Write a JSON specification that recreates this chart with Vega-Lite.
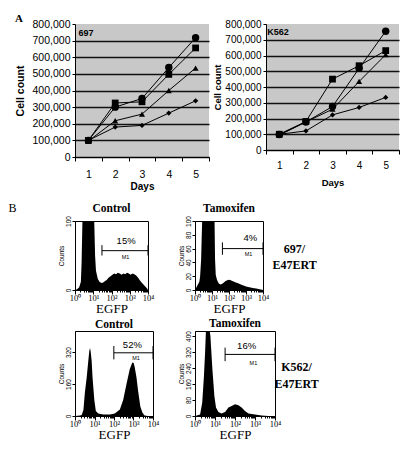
{
  "$schema": "https://vega.github.io/schema/vega-lite/v6.json",
  "background": "white",
  "padding": {"left": 8, "top": 0, "right": 0, "bottom": 0},
  "config": {
    "view": {"stroke": null},
    "font": "Liberation Sans",
    "axis": {"labelColor": "black", "titleColor": "black", "domainColor": "black", "tickColor": "black", "grid": false},
    "title": {"color": "black"},
    "text": {"color": "black"}
  },
  "datasets": {
    "g697": [
      {"day": 1, "series": "s1", "cells": 100000}, {"day": 2, "series": "s1", "cells": 300000}, {"day": 3, "series": "s1", "cells": 352000}, {"day": 4, "series": "s1", "cells": 538000}, {"day": 5, "series": "s1", "cells": 718000},
      {"day": 1, "series": "s2", "cells": 100000}, {"day": 2, "series": "s2", "cells": 325000}, {"day": 3, "series": "s2", "cells": 332000}, {"day": 4, "series": "s2", "cells": 497000}, {"day": 5, "series": "s2", "cells": 656000},
      {"day": 1, "series": "s3", "cells": 96000}, {"day": 2, "series": "s3", "cells": 218000}, {"day": 3, "series": "s3", "cells": 258000}, {"day": 4, "series": "s3", "cells": 400000}, {"day": 5, "series": "s3", "cells": 535000},
      {"day": 1, "series": "s4", "cells": 100000}, {"day": 2, "series": "s4", "cells": 180000}, {"day": 3, "series": "s4", "cells": 190000}, {"day": 4, "series": "s4", "cells": 264000}, {"day": 5, "series": "s4", "cells": 338000}
    ],
    "gK562": [
      {"day": 1, "series": "s1", "cells": 98000}, {"day": 2, "series": "s1", "cells": 178000}, {"day": 3, "series": "s1", "cells": 276000}, {"day": 4, "series": "s1", "cells": 518000}, {"day": 5, "series": "s1", "cells": 754000},
      {"day": 1, "series": "s2", "cells": 100000}, {"day": 2, "series": "s2", "cells": 181000}, {"day": 3, "series": "s2", "cells": 450000}, {"day": 4, "series": "s2", "cells": 535000}, {"day": 5, "series": "s2", "cells": 631000},
      {"day": 1, "series": "s3", "cells": 94000}, {"day": 2, "series": "s3", "cells": 178000}, {"day": 3, "series": "s3", "cells": 259000}, {"day": 4, "series": "s3", "cells": 435000}, {"day": 5, "series": "s3", "cells": 605000},
      {"day": 1, "series": "s4", "cells": 100000}, {"day": 2, "series": "s4", "cells": 121000}, {"day": 3, "series": "s4", "cells": 223000}, {"day": 4, "series": "s4", "cells": 270000}, {"day": 5, "series": "s4", "cells": 334000}
    ],
    "h697c": [
      {"egfp": 1, "count": 0}, {"egfp": 1.3, "count": 1}, {"egfp": 1.7, "count": 4}, {"egfp": 2.1, "count": 12}, {"egfp": 2.3, "count": 40}, {"egfp": 2.6, "count": 110}, {"egfp": 3, "count": 160}, {"egfp": 5, "count": 170}, {"egfp": 8, "count": 160}, {"egfp": 10, "count": 140}, {"egfp": 11.2, "count": 105}, {"egfp": 12.6, "count": 50}, {"egfp": 14.1, "count": 28}, {"egfp": 17.8, "count": 16}, {"egfp": 22, "count": 12}, {"egfp": 28, "count": 10}, {"egfp": 35, "count": 11}, {"egfp": 45, "count": 13}, {"egfp": 56, "count": 15}, {"egfp": 71, "count": 18}, {"egfp": 89, "count": 20}, {"egfp": 112, "count": 22}, {"egfp": 141, "count": 24}, {"egfp": 178, "count": 23}, {"egfp": 224, "count": 25}, {"egfp": 282, "count": 24}, {"egfp": 355, "count": 22}, {"egfp": 447, "count": 24}, {"egfp": 562, "count": 23}, {"egfp": 708, "count": 25}, {"egfp": 891, "count": 24}, {"egfp": 1122, "count": 22}, {"egfp": 1413, "count": 24}, {"egfp": 1778, "count": 23}, {"egfp": 2239, "count": 21}, {"egfp": 2818, "count": 18}, {"egfp": 3548, "count": 14}, {"egfp": 4467, "count": 11}, {"egfp": 5623, "count": 8}, {"egfp": 7079, "count": 5}, {"egfp": 8913, "count": 2}, {"egfp": 10000, "count": 0}
    ],
    "h697t": [
      {"egfp": 1, "count": 0}, {"egfp": 1.4, "count": 7}, {"egfp": 1.8, "count": 12}, {"egfp": 2, "count": 20}, {"egfp": 2.3, "count": 45}, {"egfp": 2.5, "count": 80}, {"egfp": 2.8, "count": 120}, {"egfp": 4, "count": 160}, {"egfp": 6.3, "count": 160}, {"egfp": 10, "count": 150}, {"egfp": 12, "count": 125}, {"egfp": 14.1, "count": 100}, {"egfp": 15.1, "count": 45}, {"egfp": 16.6, "count": 22}, {"egfp": 19, "count": 16}, {"egfp": 22, "count": 12}, {"egfp": 26, "count": 9}, {"egfp": 32, "count": 8}, {"egfp": 40, "count": 9}, {"egfp": 50, "count": 11}, {"egfp": 63, "count": 13}, {"egfp": 79, "count": 14}, {"egfp": 100, "count": 15}, {"egfp": 126, "count": 14}, {"egfp": 158, "count": 13}, {"egfp": 200, "count": 12}, {"egfp": 251, "count": 11}, {"egfp": 316, "count": 10}, {"egfp": 398, "count": 9}, {"egfp": 501, "count": 8}, {"egfp": 631, "count": 7}, {"egfp": 794, "count": 6}, {"egfp": 1000, "count": 5}, {"egfp": 1585, "count": 4}, {"egfp": 2512, "count": 3}, {"egfp": 3981, "count": 2}, {"egfp": 6310, "count": 1}, {"egfp": 10000, "count": 0}
    ],
    "hK562c": [
      {"egfp": 1, "count": 0}, {"egfp": 1.8, "count": 2}, {"egfp": 2.2, "count": 5}, {"egfp": 2.7, "count": 30}, {"egfp": 3.2, "count": 115}, {"egfp": 4, "count": 195}, {"egfp": 4.8, "count": 275}, {"egfp": 5.4, "count": 325}, {"egfp": 5.9, "count": 340}, {"egfp": 6.3, "count": 325}, {"egfp": 7.1, "count": 280}, {"egfp": 7.9, "count": 195}, {"egfp": 9.8, "count": 80}, {"egfp": 11.7, "count": 25}, {"egfp": 15.5, "count": 12}, {"egfp": 28, "count": 8}, {"egfp": 62, "count": 8}, {"egfp": 110, "count": 12}, {"egfp": 200, "count": 33}, {"egfp": 295, "count": 80}, {"egfp": 437, "count": 160}, {"egfp": 646, "count": 235}, {"egfp": 871, "count": 268}, {"egfp": 1023, "count": 265}, {"egfp": 1148, "count": 245}, {"egfp": 1413, "count": 195}, {"egfp": 1698, "count": 130}, {"egfp": 2239, "count": 48}, {"egfp": 2884, "count": 16}, {"egfp": 3715, "count": 3}, {"egfp": 5495, "count": 0}, {"egfp": 10000, "count": 0}
    ],
    "hK562t": [
      {"egfp": 1, "count": 0}, {"egfp": 1.8, "count": 8}, {"egfp": 2.3, "count": 67}, {"egfp": 2.8, "count": 200}, {"egfp": 3.2, "count": 320}, {"egfp": 3.5, "count": 420}, {"egfp": 4.2, "count": 450}, {"egfp": 5, "count": 450}, {"egfp": 5.9, "count": 400}, {"egfp": 6.3, "count": 350}, {"egfp": 7.4, "count": 235}, {"egfp": 9.3, "count": 100}, {"egfp": 11.2, "count": 42}, {"egfp": 14.8, "count": 20}, {"egfp": 21, "count": 13}, {"egfp": 32, "count": 20}, {"egfp": 47, "count": 42}, {"egfp": 68, "count": 50}, {"egfp": 100, "count": 59}, {"egfp": 148, "count": 54}, {"egfp": 214, "count": 42}, {"egfp": 316, "count": 25}, {"egfp": 468, "count": 13}, {"egfp": 1000, "count": 7}, {"egfp": 2138, "count": 3}, {"egfp": 4677, "count": 0}, {"egfp": 10000, "count": 0}
    ]
  },
  "columns": 1,
  "align": "none",
  "spacing": 9,
  "concat": [
    {
      "columns": 2,
      "align": "none",
      "spacing": 2,
      "concat": [
        {
          "title": {"text": "A", "orient": "top", "anchor": "start", "frame": "bounds", "align": "left", "font": "Liberation Serif", "fontSize": 11, "fontWeight": "bold", "offset": -5},
          "width": 134,
          "height": 133,
          "view": {"fill": "#c8c8c8", "stroke": null},
          "data": {"name": "g697"},
          "encoding": {
            "x": {"field": "day", "type": "ordinal", "scale": {"type": "band", "paddingInner": 0, "paddingOuter": 0},
              "axis": {"labelAngle": 0, "tickBand": "extent", "tickSize": 4, "labelPadding": 8, "labelFont": "Liberation Sans", "labelFontSize": 10.5, "title": "Days", "titleFont": "Liberation Sans", "titleFontSize": 10, "titleFontWeight": "bold", "titlePadding": 2, "grid": false}},
            "y": {"field": "cells", "type": "quantitative", "scale": {"domain": [0, 800000], "nice": false},
              "axis": {"values": [0, 100000, 200000, 300000, 400000, 500000, 600000, 700000, 800000], "format": ",d", "title": "Cell count", "titleFont": "Liberation Sans", "titleFontSize": 10.5, "titleFontWeight": "bold", "titlePadding": 7, "labelFont": "Liberation Sans", "labelFontSize": 10.5, "labelPadding": 2, "tickSize": 3, "grid": true, "gridColor": "#111", "gridWidth": 1.3, "gridOpacity": {"condition": {"test": "datum.value >= 800000", "value": 0}, "value": 1}}}
          },
          "layer": [
            {"mark": {"type": "line", "color": "black", "strokeWidth": 1}, "encoding": {"detail": {"field": "series", "type": "nominal"}}},
            {"mark": {"type": "point", "filled": true, "opacity": 1, "color": "black"},
              "encoding": {
                "shape": {"field": "series", "type": "nominal", "scale": {"domain": ["s1", "s2", "s3", "s4"], "range": ["circle", "square", "triangle-up", "diamond"]}, "legend": null},
                "size": {"field": "series", "type": "nominal", "scale": {"domain": ["s1", "s2", "s3", "s4"], "range": [55, 28, 55, 50]}, "legend": null}}},
            {"data": {"values": [{"day": 1, "cells": 800000, "label": "697"}]},
              "mark": {"type": "text", "align": "left", "baseline": "top", "dx": -10, "dy": 5, "font": "Liberation Sans", "fontWeight": "bold", "fontSize": 9},
              "encoding": {"text": {"field": "label"}}}
          ]
        },
        {
          "title": {"text": " ", "orient": "top", "fontSize": 19, "offset": 0},
          "width": 133,
          "height": 126,
          "view": {"fill": "#c8c8c8", "stroke": null},
          "data": {"name": "gK562"},
          "encoding": {
            "x": {"field": "day", "type": "ordinal", "scale": {"type": "band", "paddingInner": 0, "paddingOuter": 0},
              "axis": {"labelAngle": 0, "tickBand": "extent", "tickSize": 4, "labelPadding": 6, "labelFont": "Liberation Sans", "labelFontSize": 10, "title": "Days", "titleFont": "Liberation Sans", "titleFontSize": 9.5, "titleFontWeight": "bold", "titlePadding": 7, "grid": false}},
            "y": {"field": "cells", "type": "quantitative", "scale": {"domain": [0, 800000], "nice": false},
              "axis": {"values": [0, 100000, 200000, 300000, 400000, 500000, 600000, 700000, 800000], "format": ",d", "title": "Cell count", "titleFont": "Liberation Sans", "titleFontSize": 9.5, "titleFontWeight": "bold", "titlePadding": 2, "labelFont": "Liberation Sans", "labelFontSize": 10, "labelPadding": 2, "tickSize": 3, "grid": true, "gridColor": "#111", "gridWidth": 1.3, "gridOpacity": {"condition": {"test": "datum.value >= 800000", "value": 0}, "value": 1}}}
          },
          "layer": [
            {"mark": {"type": "line", "color": "black", "strokeWidth": 1}, "encoding": {"detail": {"field": "series", "type": "nominal"}}},
            {"mark": {"type": "point", "filled": true, "opacity": 1, "color": "black"},
              "encoding": {
                "shape": {"field": "series", "type": "nominal", "scale": {"domain": ["s1", "s2", "s3", "s4"], "range": ["circle", "square", "triangle-up", "diamond"]}, "legend": null},
                "size": {"field": "series", "type": "nominal", "scale": {"domain": ["s1", "s2", "s3", "s4"], "range": [55, 28, 55, 50]}, "legend": null}}},
            {"data": {"values": [{"day": 1, "cells": 800000, "label": "K562"}]},
              "mark": {"type": "text", "align": "left", "baseline": "top", "dx": -12, "dy": 4, "font": "Liberation Sans", "fontWeight": "bold", "fontSize": 9},
              "encoding": {"text": {"field": "label"}}}
          ]
        }
      ]
    },
    {
      "title": {"text": "B", "orient": "left", "anchor": "end", "angle": 0, "align": "right", "baseline": "top", "font": "Liberation Serif", "fontSize": 12, "fontWeight": "normal", "offset": 33},
      "columns": 2,
      "align": "each",
      "spacing": {"row": 1, "column": 17},
      "concat": [
        {
          "title": {"text": "Control", "font": "Liberation Serif", "fontSize": 11.5, "fontWeight": "bold", "offset": 1},
          "width": 73, "height": 69,
          "view": {"stroke": "black", "strokeWidth": 1},
          "layer": [
            {"data": {"name": "h697c"}, "mark": {"type": "area", "color": "black", "clip": true},
              "encoding": {
                "x": {"field": "egfp", "type": "quantitative", "scale": {"type": "log", "domain": [1, 10000]},
                  "axis": {"values": [1, 2, 3, 4, 5, 6, 7, 8, 9, 10, 20, 30, 40, 50, 60, 70, 80, 90, 100, 200, 300, 400, 500, 600, 700, 800, 900, 1000, 2000, 3000, 4000, 5000, 6000, 7000, 8000, 9000, 10000], "labelExpr": "datum.value == 1 ? '10⁰' : datum.value == 10 ? '10¹' : datum.value == 100 ? '10²' : datum.value == 1000 ? '10³' : datum.value == 10000 ? '10⁴' : ''", "tickSize": {"condition": {"test": "indexof([1, 10, 100, 1000, 10000], datum.value) >= 0", "value": 4}, "value": 2}, "labelFont": "Liberation Serif", "labelFontSize": 8.5, "labelPadding": -1, "labelFlush": false, "labelOverlap": false, "title": "EGFP", "titleFont": "Liberation Serif", "titleFontSize": 13, "titleFontWeight": "normal", "titlePadding": 1}},
                "y": {"field": "count", "type": "quantitative", "scale": {"domain": [0, 100], "nice": false},
                  "axis": {"values": [0, 20, 40, 60, 80, 100], "labelAngle": 270, "labelFont": "Liberation Sans", "labelFontSize": 6.5, "labelPadding": 1, "tickSize": 3, "title": "Counts", "titleFont": "Liberation Sans", "titleFontSize": 6.5, "titleFontWeight": "normal", "titlePadding": 1}}}},
            {"data": {"values": [{"from": 30, "to": 10000, "count": 57}]}, "mark": {"type": "rule", "color": "black", "strokeWidth": 1},
              "encoding": {"x": {"field": "from", "type": "quantitative"}, "x2": {"field": "to"}, "y": {"field": "count", "type": "quantitative"}}},
            {"data": {"values": [{"egfp": 30, "low": 50, "high": 65}, {"egfp": 10000, "low": 50, "high": 65}]}, "mark": {"type": "rule", "color": "black", "strokeWidth": 1},
              "encoding": {"x": {"field": "egfp", "type": "quantitative"}, "y": {"field": "low", "type": "quantitative"}, "y2": {"field": "high"}}},
            {"data": {"values": [{"label": "15%", "egfp": 631, "count": 71}]}, "mark": {"type": "text", "font": "Liberation Sans", "fontSize": 9.5, "baseline": "middle"},
              "encoding": {"x": {"field": "egfp", "type": "quantitative"}, "y": {"field": "count", "type": "quantitative"}, "text": {"field": "label"}}},
            {"data": {"values": [{"label": "M1", "egfp": 590, "count": 48}]}, "mark": {"type": "text", "font": "Liberation Sans", "fontSize": 5.5, "baseline": "middle"},
              "encoding": {"x": {"field": "egfp", "type": "quantitative"}, "y": {"field": "count", "type": "quantitative"}, "text": {"field": "label"}}}
          ]
        },
        {
          "title": {"text": "Tamoxifen", "font": "Liberation Serif", "fontSize": 11.5, "fontWeight": "bold", "offset": 1},
          "width": 68, "height": 69,
          "view": {"stroke": "black", "strokeWidth": 1},
          "resolve": {"axis": {"y": "independent"}},
          "layer": [
            {"data": {"name": "h697t"}, "mark": {"type": "area", "color": "black", "clip": true},
              "encoding": {
                "x": {"field": "egfp", "type": "quantitative", "scale": {"type": "log", "domain": [1, 10000]},
                  "axis": {"values": [1, 2, 3, 4, 5, 6, 7, 8, 9, 10, 20, 30, 40, 50, 60, 70, 80, 90, 100, 200, 300, 400, 500, 600, 700, 800, 900, 1000, 2000, 3000, 4000, 5000, 6000, 7000, 8000, 9000, 10000], "labelExpr": "datum.value == 1 ? '10⁰' : datum.value == 10 ? '10¹' : datum.value == 100 ? '10²' : datum.value == 1000 ? '10³' : datum.value == 10000 ? '10⁴' : ''", "tickSize": {"condition": {"test": "indexof([1, 10, 100, 1000, 10000], datum.value) >= 0", "value": 4}, "value": 2}, "labelFont": "Liberation Serif", "labelFontSize": 8.5, "labelPadding": -1, "labelFlush": false, "labelOverlap": false, "title": "EGFP", "titleFont": "Liberation Serif", "titleFontSize": 13, "titleFontWeight": "normal", "titlePadding": 1}},
                "y": {"field": "count", "type": "quantitative", "scale": {"domain": [0, 100], "nice": false},
                  "axis": {"values": [0, 20, 40, 60, 80, 100], "labelAngle": 270, "labelFont": "Liberation Sans", "labelFontSize": 6.5, "labelPadding": 1, "tickSize": 3, "title": "Counts", "titleFont": "Liberation Sans", "titleFontSize": 6.5, "titleFontWeight": "normal", "titlePadding": 1}}}},
            {"data": {"values": [{"from": 41, "to": 10000, "count": 60}]}, "mark": {"type": "rule", "color": "black", "strokeWidth": 1},
              "encoding": {"x": {"field": "from", "type": "quantitative"}, "x2": {"field": "to"},
                "y": {"field": "count", "type": "quantitative", "axis": {"orient": "right", "labels": false, "ticks": false, "domain": false, "grid": false, "title": ["697/", "E47ERT"], "titleAngle": 0, "titleAlign": "center", "titleBaseline": "bottom", "titlePadding": 15, "titleFont": "Liberation Serif", "titleFontSize": 12, "titleFontWeight": "bold", "titleLineHeight": 16}}}},
            {"data": {"values": [{"egfp": 41, "low": 51, "high": 69}, {"egfp": 10000, "low": 51, "high": 69}]}, "mark": {"type": "rule", "color": "black", "strokeWidth": 1},
              "encoding": {"x": {"field": "egfp", "type": "quantitative"}, "y": {"field": "low", "type": "quantitative", "axis": null}, "y2": {"field": "high"}}},
            {"data": {"values": [{"label": "4%", "egfp": 1780, "count": 75}]}, "mark": {"type": "text", "font": "Liberation Sans", "fontSize": 9.5, "baseline": "middle"},
              "encoding": {"x": {"field": "egfp", "type": "quantitative"}, "y": {"field": "count", "type": "quantitative", "axis": null}, "text": {"field": "label"}}},
            {"data": {"values": [{"label": "M1", "egfp": 1413, "count": 52}]}, "mark": {"type": "text", "font": "Liberation Sans", "fontSize": 5.5, "baseline": "middle"},
              "encoding": {"x": {"field": "egfp", "type": "quantitative"}, "y": {"field": "count", "type": "quantitative", "axis": null}, "text": {"field": "label"}}}
          ]
        },
        {
          "title": {"text": "Control", "font": "Liberation Serif", "fontSize": 11.5, "fontWeight": "bold", "offset": 1},
          "width": 78, "height": 85,
          "view": {"stroke": "black", "strokeWidth": 1},
          "layer": [
            {"data": {"name": "hK562c"}, "mark": {"type": "area", "color": "black", "clip": true},
              "encoding": {
                "x": {"field": "egfp", "type": "quantitative", "scale": {"type": "log", "domain": [1, 10000]},
                  "axis": {"values": [1, 2, 3, 4, 5, 6, 7, 8, 9, 10, 20, 30, 40, 50, 60, 70, 80, 90, 100, 200, 300, 400, 500, 600, 700, 800, 900, 1000, 2000, 3000, 4000, 5000, 6000, 7000, 8000, 9000, 10000], "labelExpr": "datum.value == 1 ? '10⁰' : datum.value == 10 ? '10¹' : datum.value == 100 ? '10²' : datum.value == 1000 ? '10³' : datum.value == 10000 ? '10⁴' : ''", "tickSize": {"condition": {"test": "indexof([1, 10, 100, 1000, 10000], datum.value) >= 0", "value": 4}, "value": 2}, "labelFont": "Liberation Serif", "labelFontSize": 8.5, "labelPadding": -1, "labelFlush": false, "labelOverlap": false, "title": "EGFP", "titleFont": "Liberation Serif", "titleFontSize": 13, "titleFontWeight": "normal", "titlePadding": 1}},
                "y": {"field": "count", "type": "quantitative", "scale": {"domain": [0, 425], "nice": false},
                  "axis": {"values": [0, 80, 160, 240, 320, 400], "labelAngle": 270, "labelFont": "Liberation Sans", "labelFontSize": 6.5, "labelPadding": 1, "tickSize": 3, "title": "Counts", "titleFont": "Liberation Sans", "titleFontSize": 6.5, "titleFontWeight": "normal", "titlePadding": 1}}}},
            {"data": {"values": [{"from": 98, "to": 10000, "count": 316}]}, "mark": {"type": "rule", "color": "black", "strokeWidth": 1},
              "encoding": {"x": {"field": "from", "type": "quantitative"}, "x2": {"field": "to"}, "y": {"field": "count", "type": "quantitative"}}},
            {"data": {"values": [{"egfp": 98, "low": 283, "high": 350}, {"egfp": 10000, "low": 283, "high": 350}]}, "mark": {"type": "rule", "color": "black", "strokeWidth": 1},
              "encoding": {"x": {"field": "egfp", "type": "quantitative"}, "y": {"field": "low", "type": "quantitative"}, "y2": {"field": "high"}}},
            {"data": {"values": [{"label": "52%", "egfp": 875, "count": 357}]}, "mark": {"type": "text", "font": "Liberation Sans", "fontSize": 9.5, "baseline": "middle"},
              "encoding": {"x": {"field": "egfp", "type": "quantitative"}, "y": {"field": "count", "type": "quantitative"}, "text": {"field": "label"}}},
            {"data": {"values": [{"label": "M1", "egfp": 1350, "count": 290}]}, "mark": {"type": "text", "font": "Liberation Sans", "fontSize": 5.5, "baseline": "middle"},
              "encoding": {"x": {"field": "egfp", "type": "quantitative"}, "y": {"field": "count", "type": "quantitative"}, "text": {"field": "label"}}}
          ]
        },
        {
          "title": {"text": "Tamoxifen", "font": "Liberation Serif", "fontSize": 11.5, "fontWeight": "bold", "offset": 1},
          "width": 80, "height": 85,
          "view": {"stroke": "black", "strokeWidth": 1},
          "resolve": {"axis": {"y": "independent"}},
          "layer": [
            {"data": {"name": "hK562t"}, "mark": {"type": "area", "color": "black", "clip": true},
              "encoding": {
                "x": {"field": "egfp", "type": "quantitative", "scale": {"type": "log", "domain": [1, 10000]},
                  "axis": {"values": [1, 2, 3, 4, 5, 6, 7, 8, 9, 10, 20, 30, 40, 50, 60, 70, 80, 90, 100, 200, 300, 400, 500, 600, 700, 800, 900, 1000, 2000, 3000, 4000, 5000, 6000, 7000, 8000, 9000, 10000], "labelExpr": "datum.value == 1 ? '10⁰' : datum.value == 10 ? '10¹' : datum.value == 100 ? '10²' : datum.value == 1000 ? '10³' : datum.value == 10000 ? '10⁴' : ''", "tickSize": {"condition": {"test": "indexof([1, 10, 100, 1000, 10000], datum.value) >= 0", "value": 4}, "value": 2}, "labelFont": "Liberation Serif", "labelFontSize": 8.5, "labelPadding": -1, "labelFlush": false, "labelOverlap": false, "title": "EGFP", "titleFont": "Liberation Serif", "titleFontSize": 13, "titleFontWeight": "normal", "titlePadding": 1}},
                "y": {"field": "count", "type": "quantitative", "scale": {"domain": [0, 425], "nice": false},
                  "axis": {"values": [0, 80, 160, 240, 320, 400], "labelAngle": 270, "labelFont": "Liberation Sans", "labelFontSize": 6.5, "labelPadding": 1, "tickSize": 3, "title": "Counts", "titleFont": "Liberation Sans", "titleFontSize": 6.5, "titleFontWeight": "normal", "titlePadding": 1}}}},
            {"data": {"values": [{"from": 32, "to": 10000, "count": 308}]}, "mark": {"type": "rule", "color": "black", "strokeWidth": 1},
              "encoding": {"x": {"field": "from", "type": "quantitative"}, "x2": {"field": "to"},
                "y": {"field": "count", "type": "quantitative", "axis": {"orient": "right", "labels": false, "ticks": false, "domain": false, "grid": false, "title": ["K562/", "E47ERT"], "titleAngle": 0, "titleAlign": "center", "titleBaseline": "bottom", "titlePadding": 4, "titleFont": "Liberation Serif", "titleFontSize": 12, "titleFontWeight": "bold", "titleLineHeight": 17}}}},
            {"data": {"values": [{"egfp": 32, "low": 274, "high": 342}, {"egfp": 10000, "low": 274, "high": 342}]}, "mark": {"type": "rule", "color": "black", "strokeWidth": 1},
              "encoding": {"x": {"field": "egfp", "type": "quantitative"}, "y": {"field": "low", "type": "quantitative", "axis": null}, "y2": {"field": "high"}}},
            {"data": {"values": [{"label": "16%", "egfp": 380, "count": 350}]}, "mark": {"type": "text", "font": "Liberation Sans", "fontSize": 9.5, "baseline": "middle"},
              "encoding": {"x": {"field": "egfp", "type": "quantitative"}, "y": {"field": "count", "type": "quantitative", "axis": null}, "text": {"field": "label"}}},
            {"data": {"values": [{"label": "M1", "egfp": 832, "count": 264}]}, "mark": {"type": "text", "font": "Liberation Sans", "fontSize": 5.5, "baseline": "middle"},
              "encoding": {"x": {"field": "egfp", "type": "quantitative"}, "y": {"field": "count", "type": "quantitative", "axis": null}, "text": {"field": "label"}}}
          ]
        }
      ]
    }
  ]
}
